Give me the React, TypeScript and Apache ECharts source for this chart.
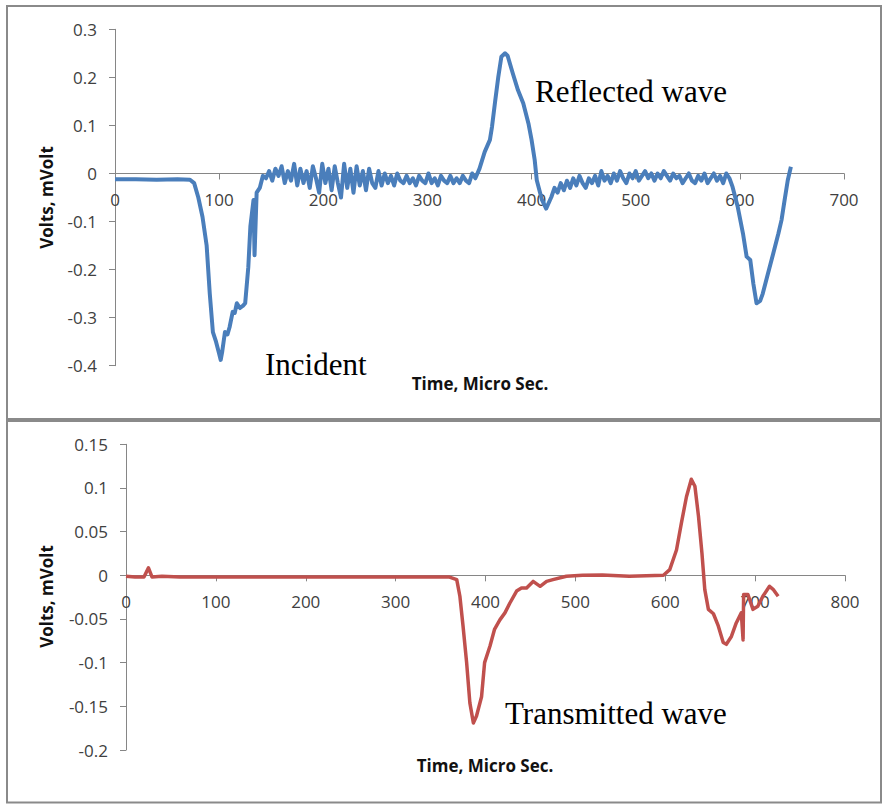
import React, { useEffect, useRef } from "react";
import * as echarts from "echarts";

// Incident / reflected signal (time in micro sec, volts in mVolt)
const TOP_SIGNAL: [number, number][] = [
  [0, -0.012], [20, -0.012], [40, -0.013], [60, -0.012], [72, -0.013], [76, -0.02],
  [80, -0.05], [84, -0.09], [88, -0.15], [91, -0.25], [94, -0.33], [97, -0.35],
  [100, -0.375], [101.5, -0.388], [103, -0.37], [105.6, -0.33], [108, -0.335], [110, -0.32],
  [113, -0.288], [115, -0.29], [117, -0.27], [120, -0.28], [123, -0.275], [125, -0.27],
  [128, -0.195], [130, -0.11], [133, -0.055], [134, -0.17], [136, -0.04], [139, -0.03],
  [142, -0.005], [145, -0.01], [148, 0.005], [151, -0.015], [154, 0.01], [157, -0.005],
  [160, 0.015], [163, -0.02], [166, 0.005], [169, -0.015], [172, 0.02], [175, -0.025],
  [178, 0.01], [181, -0.02], [184, 0.005], [187, -0.03], [190, 0.015], [193, -0.01],
  [196, -0.04], [199, 0.02], [202, -0.02], [205, 0.01], [208, -0.035], [211, 0.015],
  [214, -0.02], [217, -0.05], [220, 0.02], [223, -0.03], [226, 0.01], [229, -0.04],
  [232, 0.015], [235, -0.025], [238, 0.005], [241, -0.035], [244, 0.01], [247, -0.02],
  [250, -0.03], [253, 0.005], [256, -0.025], [259, 0.0], [262, -0.02], [265, -0.005],
  [268, -0.025], [271, 0.0], [274, -0.015], [277, -0.02], [280, -0.005], [283, -0.02],
  [286, -0.01], [289, -0.025], [292, -0.005], [295, -0.015], [298, -0.02], [301, 0.0],
  [304, -0.02], [307, -0.01], [310, -0.025], [313, -0.005], [316, -0.015], [319, -0.02],
  [322, -0.005], [325, -0.02], [328, -0.01], [331, -0.02], [334, -0.005], [337, -0.015],
  [340, -0.02], [343, 0.0], [346, -0.01], [348, 0.0], [350, 0.01], [355, 0.045],
  [360, 0.07], [362, 0.097], [365, 0.15], [368, 0.2], [371, 0.243], [374.5, 0.25],
  [377, 0.245], [382, 0.208], [387, 0.173], [392, 0.146], [397, 0.104], [400, 0.07],
  [403, 0.028], [405, -0.014], [410, -0.055], [414, -0.073], [419, -0.049], [422, -0.03],
  [425, -0.04], [428, -0.02], [431, -0.035], [434, -0.015], [437, -0.03], [440, -0.01],
  [443, -0.025], [446, -0.005], [449, -0.02], [452, -0.03], [455, -0.01], [458, -0.02],
  [461, -0.005], [464, -0.025], [467, 0.005], [470, -0.015], [473, -0.005], [476, -0.02],
  [479, 0.0], [482, -0.015], [485, 0.005], [488, -0.01], [491, -0.02], [494, 0.0],
  [497, -0.01], [500, 0.005], [503, -0.015], [506, -0.005], [509, 0.005], [512, -0.01],
  [515, 0.0], [518, -0.015], [521, 0.0], [524, -0.01], [527, 0.005], [530, -0.005],
  [533, -0.015], [536, 0.0], [539, -0.01], [542, -0.005], [545, -0.02], [548, -0.01],
  [551, 0.0], [554, -0.015], [557, -0.02], [560, -0.005], [563, -0.015], [566, 0.0],
  [569, -0.02], [572, -0.01], [575, 0.0], [578, -0.015], [581, -0.005], [584, -0.02],
  [587, 0.0], [590, -0.01], [593, -0.028], [598, -0.07], [603, -0.125], [606.5, -0.173],
  [610, -0.18], [613, -0.23], [616, -0.27], [619.5, -0.265], [622, -0.25], [627, -0.208],
  [632, -0.167], [637, -0.125], [640, -0.097], [643, -0.055], [646, -0.014], [649, 0.014],
];

// Transmitted signal
const BOTTOM_SIGNAL: [number, number][] = [
  [0, -0.001], [10, -0.002], [20, -0.002], [25, 0.0085], [29, -0.002], [40, -0.001],
  [60, -0.002], [100, -0.002], [150, -0.002], [200, -0.002], [250, -0.002], [300, -0.002],
  [350, -0.002], [360, -0.002], [368, -0.005], [371.5, -0.024], [375, -0.058], [379, -0.1],
  [382.6, -0.146], [386.5, -0.169], [390, -0.161], [395.6, -0.139], [399, -0.1], [405, -0.081],
  [410, -0.062], [416, -0.051], [421.6, -0.043], [427, -0.032], [434.6, -0.018], [440, -0.0145],
  [445.7, -0.0145], [453, -0.007], [460.8, -0.0126], [468, -0.007], [475, -0.005], [490, -0.001],
  [508, 0], [530, 0.0005], [560, -0.001], [598, 0], [605, 0.0065], [612.5, 0.029],
  [618, 0.06], [623.6, 0.09], [629, 0.11], [633, 0.102], [637, 0.0675], [640.8, 0.0256],
  [644, -0.0164], [648, -0.039], [653.6, -0.044], [659, -0.058], [664.5, -0.077], [668, -0.079],
  [673.6, -0.07], [679, -0.0545], [684.6, -0.043], [686.6, -0.074], [687.2, -0.022], [692, -0.022],
  [697.6, -0.039], [703, -0.0355], [708.6, -0.024], [716, -0.0126], [720, -0.016], [725.6, -0.024],
];

const TOP_X = { min: 0, max: 700, interval: 100 };
const TOP_Y = { min: -0.4, max: 0.3, interval: 0.1 };
const BOTTOM_X = { min: 0, max: 800, interval: 100 };
const BOTTOM_Y = { min: -0.2, max: 0.15, interval: 0.05 };

const X_TITLE = "Time, Micro Sec.";
const Y_TITLE = "Volts, mVolt";
const ANNOTATIONS = ["Incident", "Reflected wave", "Transmitted wave"];

const LABEL_FONT = "'Open Sans', 'Noto Sans', sans-serif";
const SERIF = "'Liberation Serif', 'DejaVu Serif', serif";
const AXIS_GRAY = "#868686";
const LABEL_COLOR = "#404040";
const BORDER = "#8a8a8a";

const GRIDS = [
  { left: 115, top: 29.3, width: 729, height: 336.4 },
  { left: 126, top: 444.3, width: 719, height: 305.7 },
];

function fmt(v: number) {
  return String(parseFloat(v.toFixed(3)));
}

export default function App() {
  const ref = useRef<HTMLDivElement>(null);
  useEffect(() => {
    if (!ref.current) return;
    const chart = echarts.init(ref.current, null, { renderer: "svg" });
    const labelCfg = {
      margin: 18,
      color: LABEL_COLOR,
      fontFamily: LABEL_FONT,
      fontSize: 17,
      formatter: fmt,
      showMinLabel: true,
      showMaxLabel: true,
    };
    // place the x axis on the zero of the y axis by shifting it up from the grid's bottom
    const zeroOffset = (y: { min: number; max: number }, h: number) =>
      -((0 - y.min) / (y.max - y.min)) * h;
    const xAxisBase = (cfg: any, gridIndex: number, yCfg: any) => ({
      type: "value",
      gridIndex,
      ...cfg,
      position: "bottom",
      offset: zeroOffset(yCfg, GRIDS[gridIndex].height),
      splitLine: { show: false },
      axisLine: { show: true, onZero: false, lineStyle: { color: AXIS_GRAY, width: 1 } },
      axisTick: { show: true, length: 6, lineStyle: { color: AXIS_GRAY } },
      axisLabel: { ...labelCfg },
    });
    const yAxisBase = (cfg: any, gridIndex: number) => ({
      type: "value",
      gridIndex,
      ...cfg,
      splitLine: { show: false },
      axisLine: { show: true, onZero: false, lineStyle: { color: AXIS_GRAY, width: 1 } },
      axisTick: { show: true, length: 6, lineStyle: { color: AXIS_GRAY } },
      axisLabel: { ...labelCfg },
    });
    const titleStyle = {
      fill: "#111",
      font: `bold 17px ${LABEL_FONT}`,
      align: "center",
      verticalAlign: "middle",
    };
    const annStyle = (text: string) => ({
      text,
      fill: "#000",
      font: `31px ${SERIF}`,
      align: "left",
      verticalAlign: "middle",
    });
    chart.setOption({
      animation: false,
      backgroundColor: "#ffffff",
      grid: GRIDS,
      xAxis: [xAxisBase(TOP_X, 0, TOP_Y), xAxisBase(BOTTOM_X, 1, BOTTOM_Y)],
      yAxis: [yAxisBase(TOP_Y, 0), yAxisBase(BOTTOM_Y, 1)],
      series: [
        {
          type: "line",
          xAxisIndex: 0,
          yAxisIndex: 0,
          data: TOP_SIGNAL,
          showSymbol: false,
          lineStyle: { color: "#4a7ebb", width: 4, join: "round" },
          itemStyle: { color: "#4a7ebb" },
        },
        {
          type: "line",
          xAxisIndex: 1,
          yAxisIndex: 1,
          data: BOTTOM_SIGNAL,
          showSymbol: false,
          lineStyle: { color: "#c0504d", width: 3.5, join: "round" },
          itemStyle: { color: "#c0504d" },
        },
      ],
      graphic: [
        { type: "rect", shape: { x: 7, y: 6, width: 874, height: 413 }, style: { fill: "none", stroke: BORDER, lineWidth: 2 }, silent: true },
        { type: "rect", shape: { x: 7, y: 421, width: 874, height: 381.5 }, style: { fill: "none", stroke: BORDER, lineWidth: 2 }, silent: true },
        { type: "text", x: 480, y: 383, style: { ...titleStyle, text: X_TITLE } },
        { type: "text", x: 485, y: 765, style: { ...titleStyle, text: X_TITLE } },
        { type: "text", x: 46, y: 197.5, rotation: Math.PI / 2, style: { ...titleStyle, text: Y_TITLE } },
        { type: "text", x: 46, y: 596.5, rotation: Math.PI / 2, style: { ...titleStyle, text: Y_TITLE } },
        { type: "text", x: 265, y: 364.5, style: annStyle(ANNOTATIONS[0]) },
        { type: "text", x: 535, y: 91, style: annStyle(ANNOTATIONS[1]) },
        { type: "text", x: 505, y: 713, style: annStyle(ANNOTATIONS[2]) },
      ],
    });
    return () => chart.dispose();
  }, []);
  return (
    <div
      ref={ref}
      style={{ position: "absolute", left: 0, top: 0, width: 883, height: 804 }}
    />
  );
}
